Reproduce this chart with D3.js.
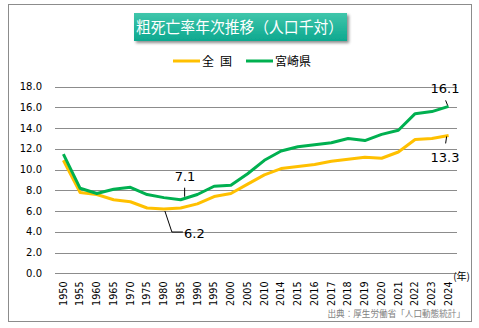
<!DOCTYPE html>
<html>
<head>
<meta charset="utf-8">
<script src="https://cdn.jsdelivr.net/npm/d3@7"></script>
<style>
  body { margin: 0; background: #fff; }
  svg { display: block; }
  text { font-family: "DejaVu Sans", Verdana, sans-serif; }
  .jp { font-family: "Noto Sans CJK JP", sans-serif; }
</style>
</head>
<body>
<svg id="chart" width="479" height="328"></svg>
<script>
// data
var years = ['1950', '1955', '1960', '1965', '1970', '1975', '1980', '1985', '1990', '1995',
    '2000', '2005', '2010', '2014', '2015', '2016', '2017', '2018', '2019', '2020',
    '2021', '2022', '2023', '2024'];
var national = [10.9, 7.8, 7.6, 7.1, 6.9, 6.3, 6.2, 6.3, 6.7, 7.4,
    7.7, 8.6, 9.5, 10.1, 10.3, 10.5, 10.8, 11.0, 11.2, 11.1,
    11.7, 12.9, 13.0, 13.3];
var miyazaki = [11.5, 8.2, 7.7, 8.1, 8.3, 7.6, 7.3, 7.1, 7.6, 8.4,
    8.5, 9.6, 10.9, 11.8, 12.2, 12.4, 12.6, 13.0, 12.8, 13.4,
    13.8, 15.4, 15.6, 16.1];
var yTicks = [0, 2, 4, 6, 8, 10, 12, 14, 16, 18];
var seriesNames = ['全\u2002国', '宮崎県'];
var colors = ['#FFC000', '#00B050'];

var svg = d3.select('svg#chart');

// outer frame
svg.append('rect')
    .attr('x', 8.5).attr('y', 4.5)
    .attr('width', 463).attr('height', 317)
    .attr('fill', '#fff')
    .attr('stroke', '#8c8c8c')
    .attr('stroke-width', 1);

// title box
var defs = svg.append('defs');
var grad = defs.append('linearGradient')
    .attr('id', 'titleGrad')
    .attr('x1', 0).attr('y1', 0).attr('x2', 0).attr('y2', 1);
grad.append('stop').attr('offset', '0%').attr('stop-color', '#40c6ab');
grad.append('stop').attr('offset', '100%').attr('stop-color', '#0da88f');
var shadow = defs.append('filter').attr('id', 'shadow')
    .attr('x', '-10%').attr('y', '-30%').attr('width', '130%').attr('height', '180%');
shadow.append('feDropShadow')
    .attr('dx', 2).attr('dy', 2).attr('stdDeviation', 1.5)
    .attr('flood-color', '#000').attr('flood-opacity', 0.45);

svg.append('rect')
    .attr('x', 134).attr('y', 13)
    .attr('width', 213).attr('height', 28)
    .attr('fill', 'url(#titleGrad)')
    .attr('filter', 'url(#shadow)');
svg.append('text')
    .attr('class', 'jp')
    .attr('x', 136).attr('y', 33)
    .attr('fill', '#fff')
    .attr('font-size', 15.5)
    .attr('textLength', 207)
    .attr('lengthAdjust', 'spacingAndGlyphs')
    .text('粗死亡率年次推移（人口千対）');

// legend
var legendX = [173, 246];
seriesNames.forEach(function(name, i) {
    var lg = svg.append('g').attr('transform', 'translate(' + legendX[i] + ',61)');
    lg.append('line')
        .attr('x1', 0).attr('x2', 27)
        .attr('stroke', colors[i]).attr('stroke-width', 3);
    lg.append('text')
        .attr('class', 'jp')
        .attr('x', 29).attr('y', 4.5)
        .attr('font-size', 12)
        .attr('fill', '#000')
        .text(name);
});

// scales
var margin = { left: 55, right: 457, top: 86.7, bottom: 273.3 };
var x = d3.scaleBand().domain(years).range([margin.left, margin.right]);
var y = d3.scaleLinear().domain([0, 18]).range([margin.bottom, margin.top]);
function cx(d) { return x(d) + x.bandwidth() / 2; }

// gridlines
svg.append('g').selectAll('line')
    .data(yTicks)
    .enter().append('line')
        .attr('x1', margin.left).attr('x2', margin.right)
        .attr('y1', function(d) { return Math.round(y(d)) + 0.5; })
        .attr('y2', function(d) { return Math.round(y(d)) + 0.5; })
        .attr('stroke', '#8c8c8c')
        .attr('stroke-width', 1);

// y labels
svg.append('g').selectAll('text')
    .data(yTicks)
    .enter().append('text')
        .attr('x', 42)
        .attr('y', function(d) { return y(d) + 3.5; })
        .attr('text-anchor', 'end')
        .attr('font-size', 10)
        .attr('fill', '#000')
        .text(function(d) { return d.toFixed(1); });

// x labels (rotated)
svg.append('g').selectAll('text')
    .data(years)
    .enter().append('text')
        .attr('transform', function(d) {
            return 'translate(' + (cx(d) + 3.3) + ',281.5) rotate(-90)';
        })
        .attr('text-anchor', 'end')
        .attr('font-size', 9.6)
        .attr('fill', '#000')
        .text(function(d) { return d; });

svg.append('text')
    .attr('class', 'jp')
    .attr('x', 470).attr('y', 280)
    .attr('text-anchor', 'end')
    .attr('font-size', 10)
    .attr('fill', '#000')
    .text('(年)');

svg.append('text')
    .attr('class', 'jp')
    .attr('x', 465).attr('y', 316.5)
    .attr('text-anchor', 'end')
    .attr('font-size', 8.6)
    .attr('fill', '#7f7f7f')
    .text('出典：厚生労働省「人口動態統計」');

// lines
var line = d3.line()
    .x(function(d, i) { return cx(years[i]); })
    .y(function(d) { return y(d); });

[national, miyazaki].forEach(function(series, i) {
    svg.append('path')
        .datum(series)
        .attr('fill', 'none')
        .attr('stroke', colors[i])
        .attr('stroke-width', 3)
        .attr('stroke-linejoin', 'round')
        .attr('d', line);
});

// data callouts
var callouts = [
    { series: miyazaki, idx: 7, path: [[4, -3], [4, -12]], tx: 185, ty: 181, anchor: 'middle' },
    { series: national, idx: 6, path: [[1, 2], [8, 23], [19, 23]], tx: 184, ty: 238, anchor: 'start' },
    { series: miyazaki, idx: 23, path: [[-1, -1], [-3, -6]], tx: 445, ty: 93, anchor: 'middle' },
    { series: national, idx: 23, path: [[-2, 1], [-3, 8]], tx: 445, ty: 162, anchor: 'middle' }
];
callouts.forEach(function(c) {
    var px = cx(years[c.idx]), py = y(c.series[c.idx]);
    svg.append('path')
        .attr('fill', 'none')
        .attr('stroke', '#000')
        .attr('stroke-width', 1)
        .attr('d', d3.line()(c.path.map(function(p) { return [px + p[0], py + p[1]]; })));
    svg.append('text')
        .attr('x', c.tx).attr('y', c.ty)
        .attr('text-anchor', c.anchor)
        .attr('font-size', 13)
        .attr('fill', '#000')
        .text(c.series[c.idx].toFixed(1));
});
</script>
</body>
</html>
